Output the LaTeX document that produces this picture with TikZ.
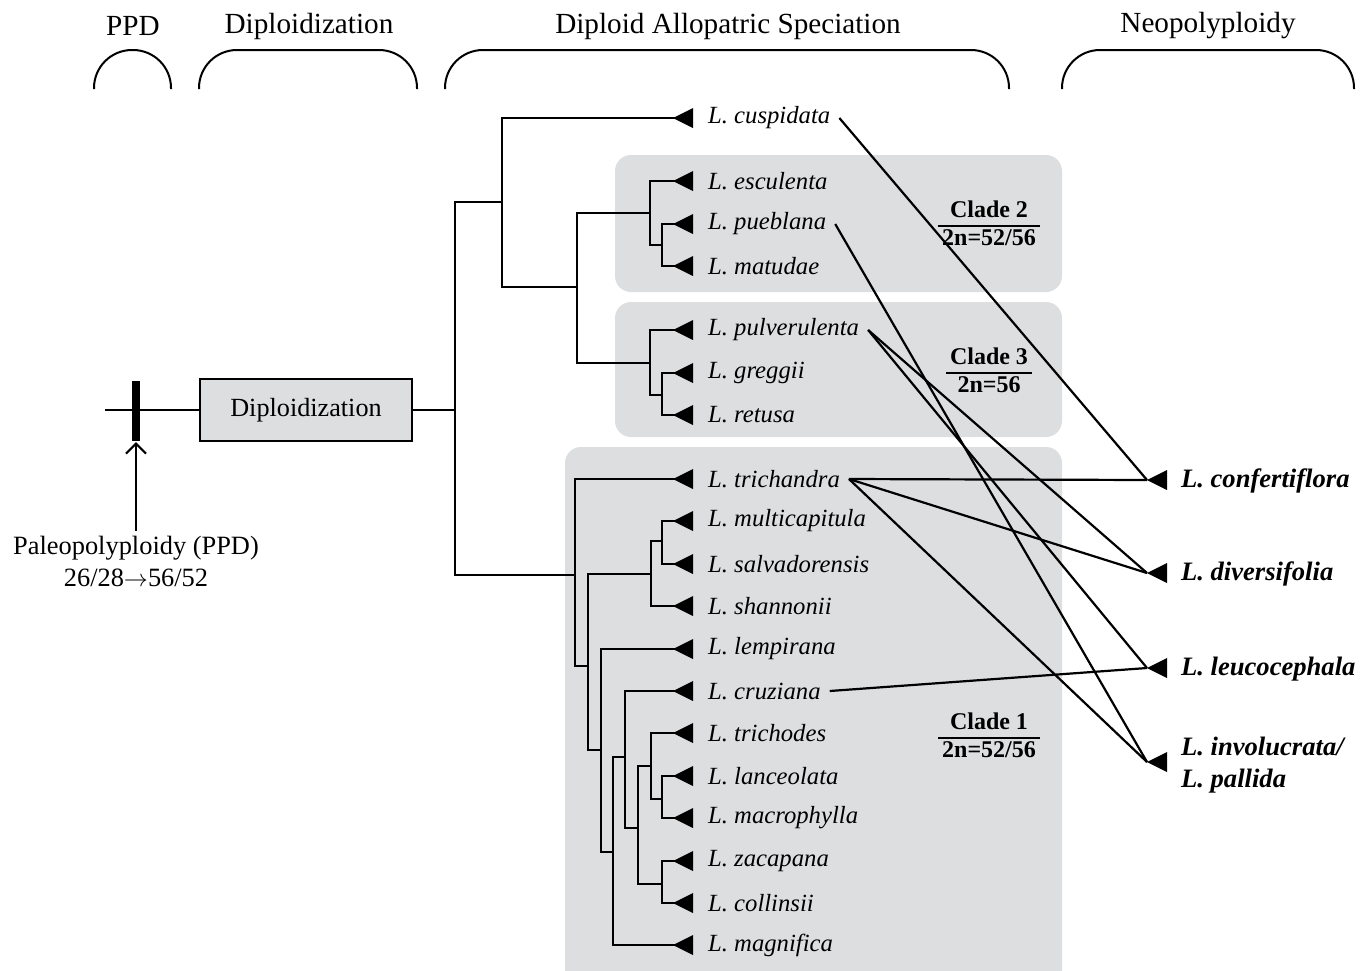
\documentclass[tikz,border=0pt]{standalone}
\usepackage{fontspec}
\setmainfont{Liberation Serif}
\usetikzlibrary{arrows.meta}
\definecolor{CladeGray}{RGB}{221,222,224}
\setlength{\arrayrulewidth}{1pt}

\begin{document}
\begin{tikzpicture}[x=0.5pt, y=-0.5pt, line width=1.1pt,
    header/.style={font=\fontsize{14.6}{17}\selectfont},
    brace/.style={rounded corners=19pt, line width=1pt},
    leaf/.style={anchor=west, inner sep=4pt, font=\fontsize{12.35}{14}\selectfont\itshape},
    hybrid/.style={anchor=west, inner sep=4pt, align=left,
                   font=\fontsize{13.3}{16}\selectfont\bfseries\itshape},
    cladebox/.style={fill=CladeGray, rounded corners=8pt},
    cladelabel/.style={inner sep=0pt, font=\fontsize{12}{13}\selectfont\bfseries}]
    % Page frame
    \useasboundingbox (0,0) rectangle (1369,970);

    % Clade backgrounds
    \fill[cladebox] (615,155) rectangle (1062,292);
    \fill[cladebox] (615,302) rectangle (1062,437);
    \fill[cladebox] (565,447) rectangle (1062,1000);

    % Stage headers and brackets
    \node[header] (hppd) at (133,26) {PPD};
    \node[header] (hdip) at (309,26) {Diploidization};
    \node[header] (hspe) at (728,26) {Diploid Allopatric Speciation};
    \node[header] (hneo) at (1208,26) {Neopolyploidy};
    \draw[brace] (94,89) -- (94,50) -- (171,50) -- (171,89);
    \draw[brace] (199,89) -- (199,50) -- (417,50) -- (417,89);
    \draw[brace] (445,89) -- (445,50) -- (1009,50) -- (1009,89);
    \draw[brace] (1062,89) -- (1062,50) -- (1354,50) -- (1354,89);

    % Paleopolyploidy event and diploidization
    \coordinate (start) at (105,410);
    \node[draw, fill=CladeGray, line width=1pt, minimum width=106pt, minimum height=31pt,
          font=\fontsize{13.1}{15}\selectfont] (dip) at (306,410) {Diploidization};
    \draw (start) -- (dip);
    \node[fill, inner sep=0pt, minimum width=4pt, minimum height=30pt] (ppd) at (136,411) {};
    \node[align=center, inner sep=2pt, font=\fontsize{13.2}{16}\selectfont] (ppdlab) at (136,561)
        {Paleopolyploidy (PPD)\\26/28\ensuremath{\rightarrow}56/52};
    \draw[-{Straight Barb[length=5pt, width=10pt]}] (ppdlab.north) -- (ppd.south);

    % Leaves with tip marks
    \foreach \nm/\yy/\txt in {cusp/118/cuspidata, escu/181/esculenta, pueb/224/pueblana,
        matu/266/matudae, pulv/330/pulverulenta, greg/373/greggii, retu/415/retusa,
        tric/479/trichandra, mult/521/multicapitula, salv/564/salvadorensis,
        shan/606/shannonii, lemp/649/lempirana, cruz/691/cruziana, trid/733/trichodes,
        lanc/776/lanceolata, macr/818/macrophylla, zaca/861/zacapana,
        coll/903/collinsii, magn/945/magnifica} {
        \coordinate (\nm-t) at (693,\yy);
        \fill (\nm-t) ++(0,-10) -- ++(-20,10) -- ++(20,10) -- cycle;
        \node[leaf] (\nm) at (699,\yy) {L. \txt};
    }

    % Internal nodes of the tree
    \coordinate (r0) at (455,410);
    \coordinate (a) at (502,202);
    \coordinate (b) at (577,287);
    \coordinate (c2) at (650,213);
    \coordinate (c2b) at (662,245);
    \coordinate (c3) at (650,363);
    \coordinate (c3b) at (662,395);
    \coordinate (c1) at (575,575);
    \coordinate (d) at (588,666);
    \coordinate (e) at (651,574);
    \coordinate (e2) at (662,541);
    \coordinate (f) at (601,750);
    \coordinate (g) at (613,852);
    \coordinate (h) at (625,757);
    \coordinate (i) at (638,828);
    \coordinate (j) at (651,766);
    \coordinate (k) at (662,799);
    \coordinate (l) at (662,884);

    \draw (dip) -- (r0);
    \foreach \p/\c in {r0/a, r0/c1, a/cusp-t, a/b, b/c2, b/c3, c2/escu-t, c2/c2b,
        c2b/pueb-t, c2b/matu-t, c3/pulv-t, c3/c3b, c3b/greg-t, c3b/retu-t,
        c1/tric-t, c1/d, d/e, d/f, e/e2, e/shan-t, e2/mult-t, e2/salv-t,
        f/lemp-t, f/g, g/h, g/magn-t, h/cruz-t, h/i, i/j, i/l, j/trid-t, j/k,
        k/lanc-t, k/macr-t, l/zaca-t, l/coll-t}
        \draw (\p) |- (\c);

    % Clade labels
    \node[cladelabel] (cl2) at (989,226)
        {\begin{tabular}{@{\hspace{2pt}}c@{\hspace{2pt}}}Clade 2\\\hline 2n=52/56\end{tabular}};
    \node[cladelabel] (cl3) at (989,373)
        {\begin{tabular}{@{\hspace{2pt}}c@{\hspace{2pt}}}Clade 3\\\hline 2n=56\end{tabular}};
    \node[cladelabel] (cl1) at (989,738)
        {\begin{tabular}{@{\hspace{2pt}}c@{\hspace{2pt}}}Clade 1\\\hline 2n=52/56\end{tabular}};

    % Neopolyploid species
    \foreach \nm/\yy in {conf/480, dive/573, leuc/668, invo/762} {
        \coordinate (\nm-t) at (1147,\yy);
        \fill (\nm-t) -- ++(20,-10) -- ++(0,20) -- cycle;
    }
    \node[hybrid] (conf) at (1172,481) {L. confertiflora};
    \node[hybrid] (dive) at (1172,574) {L. diversifolia};
    \node[hybrid] (leuc) at (1172,669) {L. leucocephala};
    \node[hybrid] (invo) at (1172,765) {L. involucrata/\\L. pallida};

    % Parental links
    \foreach \a/\b in {cusp/conf, pueb/invo, pulv/dive, pulv/leuc,
        tric/conf, tric/dive, tric/invo, cruz/leuc}
        \draw (\a.east) -- (\b-t);
\end{tikzpicture}
\end{document}
